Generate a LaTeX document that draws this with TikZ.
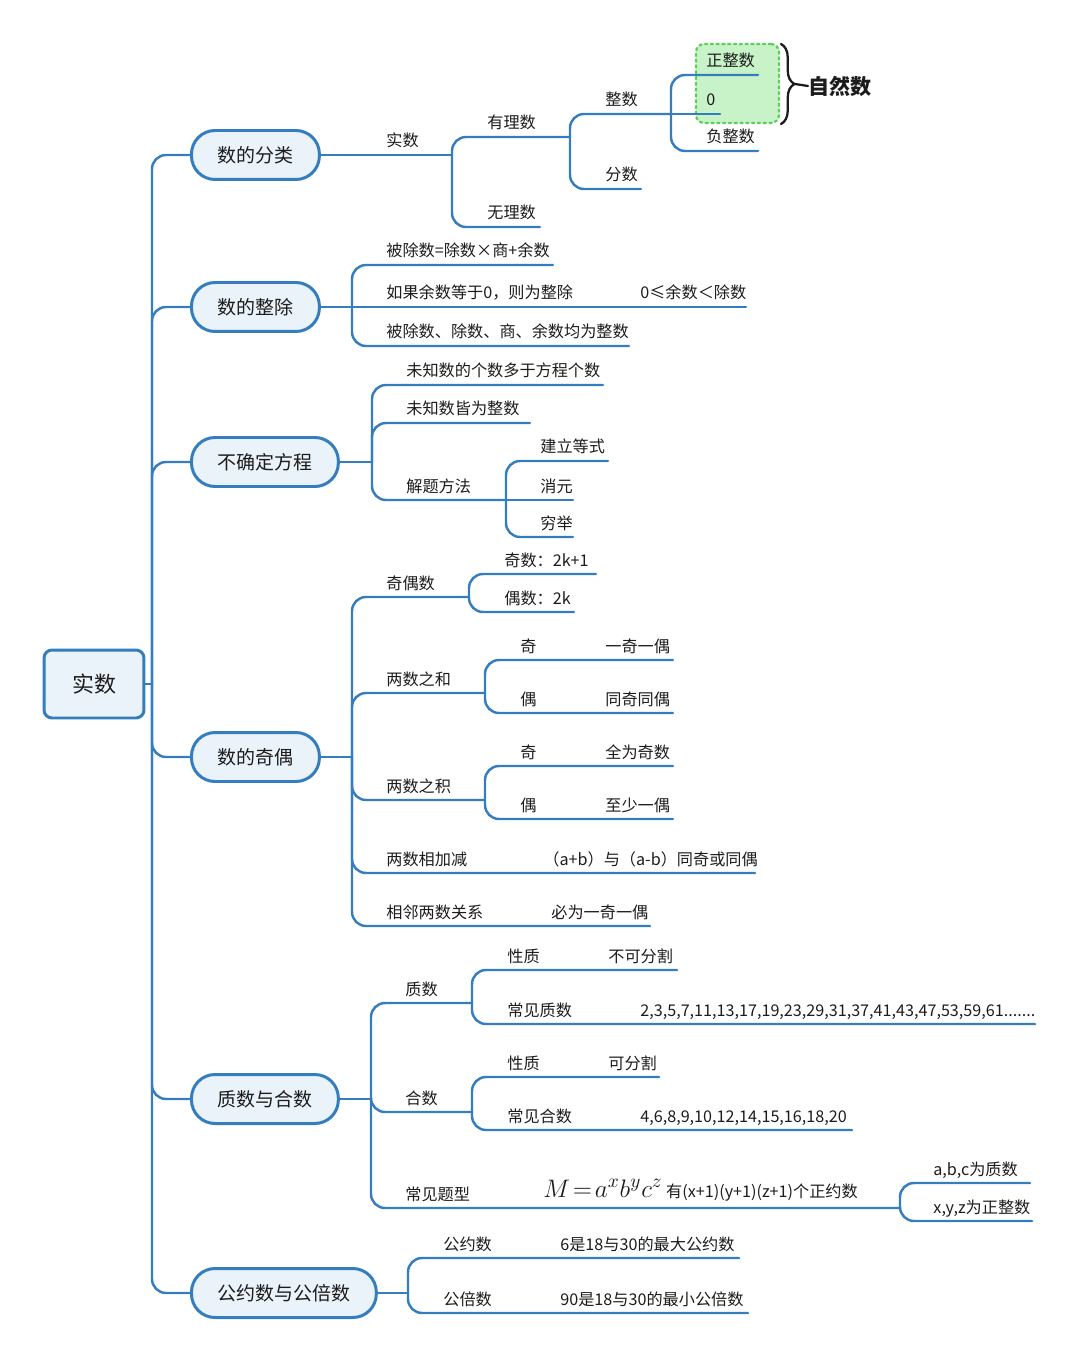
\documentclass[tikz,border=0pt]{standalone}
\usepackage{fontspec}
\setmainfont{Noto Sans CJK SC}
\usetikzlibrary{decorations.pathreplacing}
\definecolor{lineblue}{RGB}{52,125,190}
\definecolor{nodefill}{RGB}{234,242,250}
\definecolor{natfill}{RGB}{200,242,200}
\definecolor{natedge}{RGB}{90,208,90}
\definecolor{ink}{RGB}{28,28,28}

\begin{document}
\begin{tikzpicture}[x=0.02cm, y=-0.02cm, line cap=round,
  link/.style={draw=lineblue, line width=1.4pt, rounded corners=8pt},
  topic/.style={draw=lineblue, fill=nodefill, line width=1.7pt, rounded corners=0.47cm,
    minimum height=0.98cm, inner xsep=0.52cm, anchor=west, text=ink,
    font=\fontsize{10.8}{13}\selectfont},
  rootbox/.style={draw=lineblue, fill=nodefill, line width=1.7pt, rounded corners=0.16cm,
    minimum width=2cm, minimum height=1.36cm, text=ink, font=\fontsize{12.5}{15}\selectfont},
  lbl/.style={anchor=base west, inner sep=0pt, text=ink, font=\fontsize{9.2}{11}\selectfont}]
  \useasboundingbox (0,0) rectangle (1080,1364);

  % root and trunk
  \node[rootbox] (r) at (94,684) {实数};
  \coordinate (tr) at (152,684);
  \node[topic] (t1) at (190,155) {数的分类};
  \node[topic] (t2) at (190,307) {数的整除};
  \node[topic] (t3) at (190,462) {不确定方程};
  \node[topic] (t4) at (190,757) {数的奇偶};
  \node[topic] (t5) at (190,1099) {质数与合数};
  \node[topic] (t6) at (190,1293) {公约数与公倍数};
  \draw[link] (r.east) -- (tr);
  \foreach \t in {t1,t2,t3,t4,t5,t6}
    \draw[link] (tr) |- (\t.west);

  % natural numbers box
  \node[draw=natedge, fill=natfill, dotted, line width=1.3pt, rounded corners=0.16cm,
    minimum width=1.66cm, minimum height=1.58cm] (zbox) at (737.5,83.5) {};

  % junctions and line ends
  \foreach \n/\x/\y in {j1/452/155, j11/570/137, e12/540/227, j111/671/114, e112/641/189,
      e1111/758/75, e1112/720/114, e1113/758/151,
      j2/352/307, e21/553/265, e22/746/307, e23/629/346,
      j3/372/462, e31/603/385, e32/530/423, j33/506/500, e331/608/461, e332/573/500, e333/573/537,
      j4/352/757, j41/469/597, e411/596/574, e412/574/612, j42/485/693, e421/673/660, e422/673/713,
      j43/485/800, e431/673/766, e432/673/819, e44/755/873, e45/650/926,
      j5/371/1099, j51/472/1003, e511/677/970, e512/1035/1024, j52/472/1112, e521/659/1077,
      e522/852/1130, j53/900/1208, e531/1030/1183, e532/1032/1221,
      j6/408/1293, e61/739/1258, e62/748/1313}
    \coordinate (\n) at (\x,\y);

  \foreach \t/\j in {t1/j1, t2/j2, t3/j3, t4/j4, t5/j5, t6/j6}
    \draw[link] (\t.east) -- (\j);
  \foreach \j/\e in {j1/j11, j1/e12, j11/j111, j11/e112, j111/e1111, j111/e1113,
      j2/e21, j2/e23, j3/e31, j3/e32, j3/j33, j33/e331, j33/e333,
      j4/j41, j41/e411, j41/e412, j4/j42, j42/e421, j42/e422, j4/j43, j43/e431, j43/e432,
      j4/e44, j4/e45, j5/j51, j51/e511, j51/e512, j5/j52, j52/e521, j52/e522, j5/j53,
      j53/e531, j53/e532, j6/e61, j6/e62}
    \draw[link] (\j) |- (\e);
  \foreach \j/\e in {j111/e1112, j2/e22, j33/e332}
    \draw[link] (\j) -- (\e);

  % labels
  \foreach \n/\x/\y/\lab in {l1/386/155/实数, l2/487/137/有理数, l3/487/227/无理数,
      l4/605/114/整数, l5/605/189/分数, l6/706/75/正整数, l7/706/114/0, l8/706/151/负整数,
      l9/386/265/被除数=除数×商+余数, l10/386/307/{如果余数等于0，则为整除},
      l11/640/307/0≤余数＜除数, l12/386/346/被除数、除数、商、余数均为整数,
      l13/406/385/未知数的个数多于方程个数, l14/406/423/未知数皆为整数, l15/406/500/解题方法,
      l16/540/461/建立等式, l17/540/500/消元, l18/540/537/穷举,
      l19/386/597/奇偶数, l20/504/574/奇数：2k+1, l21/504/612/偶数：2k,
      l22/386/693/两数之和, l23/520/660/奇, l24/605/660/一奇一偶, l25/520/713/偶, l26/605/713/同奇同偶,
      l27/386/800/两数之积, l28/520/766/奇, l29/605/766/全为奇数, l30/520/819/偶, l31/605/819/至少一偶,
      l32/386/873/两数相加减, l33/543/873/（a+b）与（a-b）同奇或同偶,
      l34/386/926/相邻两数关系, l35/551/926/必为一奇一偶,
      l36/405/1003/质数, l37/507/970/性质, l38/608/970/不可分割, l39/507/1024/常见质数,
      l40/640/1024/{2,3,5,7,11,13,17,19,23,29,31,37,41,43,47,53,59,61.......},
      l41/405/1112/合数, l42/507/1077/性质, l43/608/1077/可分割, l44/507/1130/常见合数,
      l45/640/1130/{4,6,8,9,10,12,14,15,16,18,20},
      l46/405/1208/常见题型, l47/933/1183/{a,b,c为质数}, l48/933/1221/{x,y,z为正整数},
      l49/443/1258/公约数, l50/560/1258/6是18与30的最大公约数,
      l51/443/1313/公倍数, l52/560/1313/90是18与30的最小公倍数}
    \node[lbl] (\n) at (\x,\y-8) {\lab};
  \node[lbl] (fm) at (543,1208-11) {{\fontsize{15}{17}\selectfont$M\!=\!a^{x}b^{y}c^{z}$}\ 有(x+1)(y+1)(z+1)个正约数};

  % brace to 自然数
  \coordinate (nb1) at (781,44);
  \coordinate (nb2) at (781,124);
  \coordinate (bt) at (795,84);
  \node[anchor=west, inner sep=0pt, text=ink, font=\bfseries\fontsize{12}{14}\selectfont] (nat) at (808,86) {自然数};
  \draw[ink, line width=1.3pt, decorate, decoration={brace, amplitude=0.27cm}] (nb1) -- (nb2);
  \draw[ink, line width=1.3pt] (bt) -- (nat.west);
\end{tikzpicture}
\end{document}
